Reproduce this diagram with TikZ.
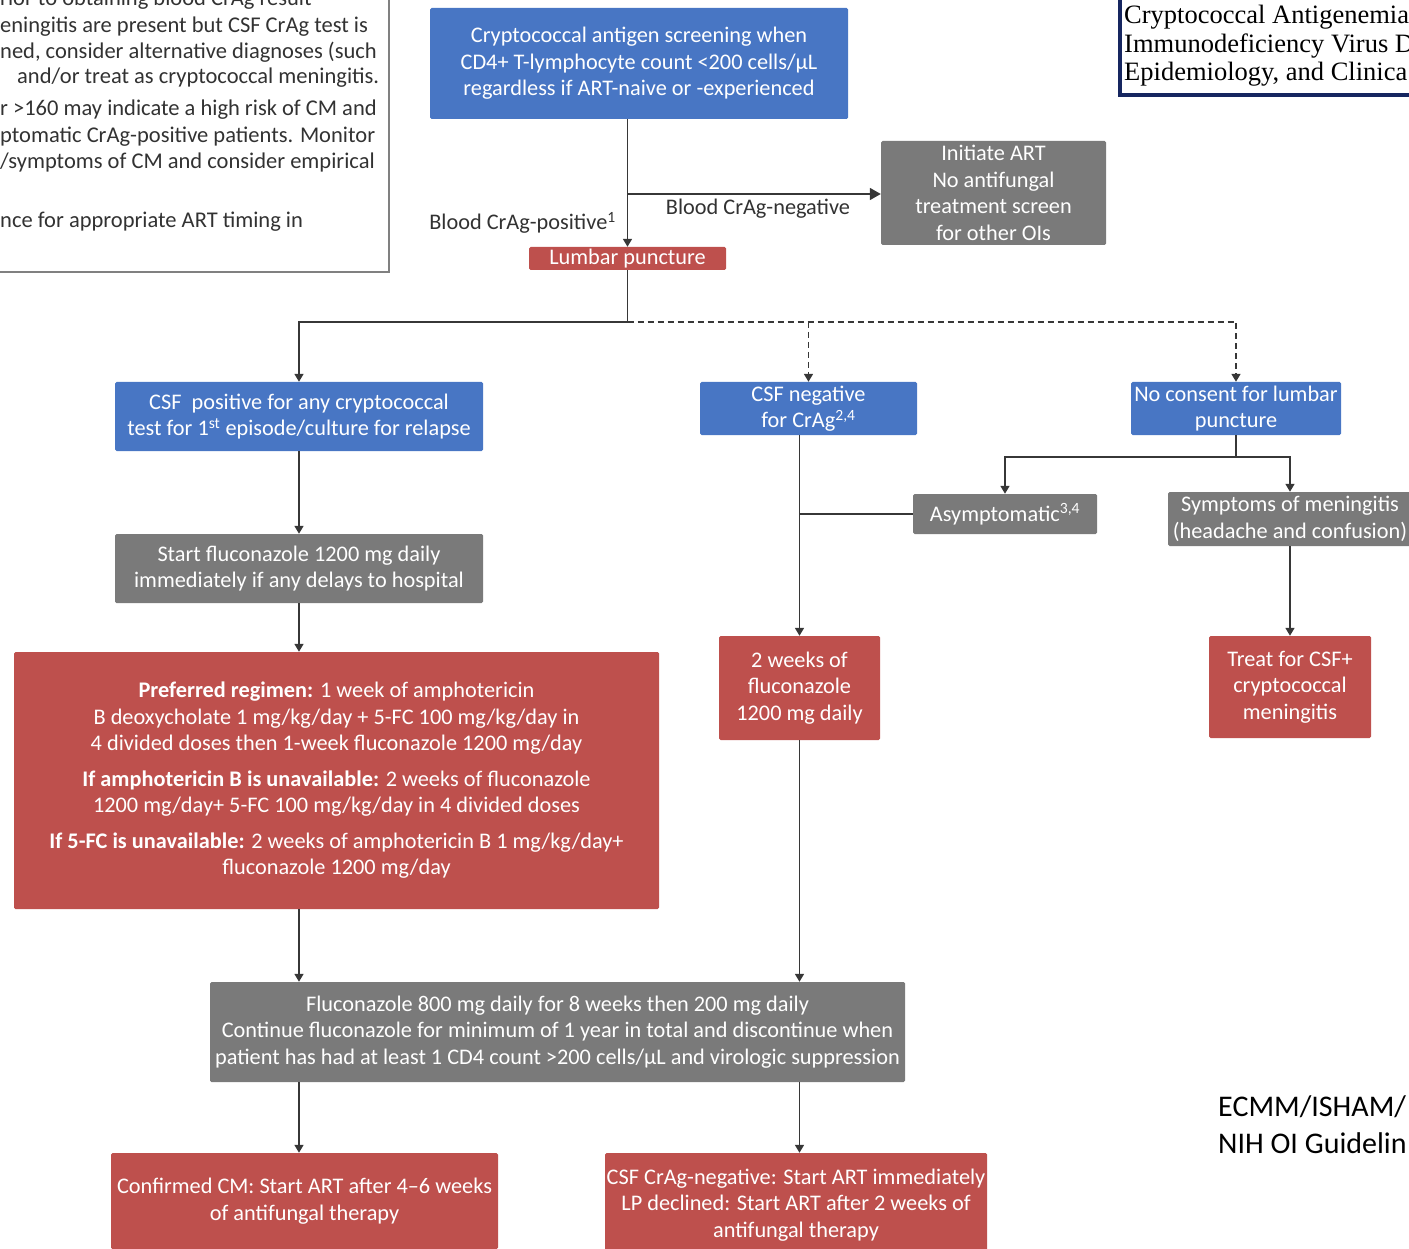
\documentclass[tikz,border=0pt]{standalone}
\usepackage{fontspec}
\setmainfont{Carlito}
\newfontfamily\serifhead{Liberation Serif}
\usetikzlibrary{arrows.meta}
\definecolor{boxblue}{RGB}{72,118,196}
\definecolor{boxgray}{RGB}{122,122,122}
\definecolor{boxred}{RGB}{190,80,77}
\definecolor{linegray}{RGB}{55,55,55}
\definecolor{notegray}{RGB}{50,50,50}
\definecolor{navy}{RGB}{22,38,96}

\begin{document}
\begin{tikzpicture}[x=1pt,y=-1pt]
					\useasboundingbox (0,0) rectangle (1409,1249);
					\clip (0,0) rectangle (1409,1249);
					\tikzstyle{every node}=[inner sep=0pt, align=center, font=\fontsize{22.3}{26.5}\selectfont];
					\tikzstyle{bbox}=[fill=boxblue, text=white, rounded corners=1.5pt];
					\tikzstyle{gbox}=[fill=boxgray, text=white, rounded corners=1.5pt];
					\tikzstyle{rbox}=[fill=boxred, text=white, rounded corners=1.5pt];
					\tikzstyle{ln}=[draw=linegray, line width=1.6pt];
					\tikzstyle{arr}=[ln, -{Triangle[length=8pt,width=9pt]}];
					\tikzstyle{dsh}=[arr, dash pattern=on 6pt off 4pt];
					\tikzstyle{lbl}=[text=notegray];
					\tikzstyle{note}=[anchor=west, text=notegray, font=\fontsize{22.5}{26.5}\selectfont];
					\draw[gray, line width=2pt] (-20,-20) rectangle (389,272);
					\draw[navy, line width=4pt] (1120,-20) rectangle (1430,95);
					\path (0,0) node[note] (n0) {rior to obtaining blood CrAg result};
					\path (0,27) node[note] (n1) {eningitis are present but CSF CrAg test is};
					\path (0,52) node[note] (n2) {ned, consider alternative diagnoses (such};
					\path (17,78) node[note] (n3) {and/or treat as cryptococcal meningitis.};
					\path (0,110) node[note] (n4) {r >160 may indicate a high risk of CM and};
					\path (0,137) node[note] (n5) {ptomatic CrAg-positive patients. Monitor};
					\path (0,163) node[note] (n6) {/symptoms of CM and consider empirical};
					\path (0,222) node[note] (n7) {nce for appropriate ART timing in};
					\path (1124,17) node[anchor=west, font=\serifhead\fontsize{26.5}{28}\selectfont] (t0) {Cryptococcal Antigenemia};
					\path (1124,46) node[anchor=west, font=\serifhead\fontsize{26.5}{28}\selectfont] (t1) {Immunodeficiency Virus D};
					\path (1124,74) node[anchor=west, font=\serifhead\fontsize{26.5}{28}\selectfont] (t2) {Epidemiology, and Clinica};
					\path (1218,1107) node[anchor=west, font=\fontsize{30}{36}\selectfont] (r0) {ECMM/ISHAM/};
					\path (1218,1143) node[anchor=west, font=\fontsize{30}{36}\selectfont] (r1) {NIH OI Guidelin};
					\path (639,63.5) node[bbox, minimum width=418, minimum height=111] (v0) {Cryptococcal antigen screening when\\CD4+ T-lymphocyte count <200 cells/µL\\regardless if ART-naive or -experienced};
					\path (993.5,193) node[gbox, minimum width=225, minimum height=104] (v1) {Initiate ART\\No antifungal\\treatment screen\\for other OIs};
					\path (627.5,258.5) node[rbox, minimum width=197, minimum height=23] (v2) {Lumbar puncture};
					\path (616,223) node[lbl, anchor=east] (v3) {Blood CrAg-positive\textsuperscript{1}};
					\path (758,209) node[lbl] (v4) {Blood CrAg-negative};
					\path (299,416.5) node[bbox, minimum width=368, minimum height=69] (v5) {CSF\ \ positive for any cryptococcal\\test for 1\textsuperscript{st} episode/culture for relapse};
					\path (299,568.5) node[gbox, minimum width=368, minimum height=69] (v6) {Start fluconazole 1200 mg daily\\immediately if any delays to hospital};
					\path (336.5,780.5) node[rbox, minimum width=645, minimum height=257] (v7) {\textbf{Preferred regimen:} 1 week of amphotericin\\B deoxycholate 1 mg/kg/day + 5-FC 100 mg/kg/day in\\4 divided doses then 1-week fluconazole 1200 mg/day\\[9pt]\textbf{If amphotericin B is unavailable:} 2 weeks of fluconazole\\1200 mg/day+ 5-FC 100 mg/kg/day in 4 divided doses\\[9pt]\textbf{If 5-FC is unavailable:} 2 weeks of amphotericin B 1 mg/kg/day+\\fluconazole 1200 mg/day};
					\path (808.5,408.5) node[bbox, minimum width=217, minimum height=53] (v8) {CSF negative\\for CrAg\textsuperscript{2,4}};
					\path (799.5,688) node[rbox, minimum width=161, minimum height=104] (v9) {2 weeks of\\fluconazole\\1200 mg daily};
					\path (1236,408.5) node[bbox, minimum width=210, minimum height=53] (v10) {No consent for lumbar\\puncture};
					\path (1005,514) node[gbox, minimum width=184, minimum height=40] (v11) {Asymptomatic\textsuperscript{3,4}};
					\path (1290,519) node[gbox, minimum width=244, minimum height=54] (v12) {Symptoms of meningitis\\(headache and confusion)};
					\path (1290,687) node[rbox, minimum width=162, minimum height=102] (v13) {Treat for CSF+\\cryptococcal\\meningitis};
					\path (557.5,1032) node[gbox, minimum width=695, minimum height=100] (v14) {Fluconazole 800 mg daily for 8 weeks then 200 mg daily\\Continue fluconazole for minimum of 1 year in total and discontinue when\\patient has had at least 1 CD4 count >200 cells/µL and virologic suppression};
					\path (304.5,1201) node[rbox, minimum width=387, minimum height=96] (v15) {Confirmed CM: Start ART after 4--6 weeks\\of antifungal therapy};
					\path (796,1205) node[rbox, minimum width=382, minimum height=104] (v16) {CSF CrAg-negative: Start ART immediately\\LP declined: Start ART after 2 weeks of\\antifungal therapy};
					\coordinate (c0) at (627.5,194);
					\coordinate (c1) at (627.5,322);
					\coordinate (c2) at (1236,457);
					\draw[arr] (v0.south -| v2.north) -- (v2.north);
					\draw[ln, -{Triangle[length=11pt,width=12pt]}] (c0) -- (c0 -| v1.west);
					\draw[ln] (v2.south) -- (c1);
					\draw[arr] (c1) -| (v5.north);
					\draw[dsh] (c1) -| (v10.north);
					\draw[dsh] (c1 -| v8.north) -- (v8.north);
					\draw[arr] (v5.south) -- (v6.north);
					\draw[arr] (v6.south) -- (v6.south |- v7.north);
					\draw[arr] (v7.south -| v6.south) -- (v6.south |- v14.north);
					\draw[arr] (v8.south -| v9.north) -- (v9.north);
					\draw[ln] (v11.west) -- (v11.west -| v9.north);
					\draw[arr] (v9.south) -- (v9.south |- v14.north);
					\draw[ln] (v10.south) -- (c2);
					\draw[arr] (c2) -| (v11.north);
					\draw[arr] (c2) -| (v12.north);
					\draw[arr] (v12.south) -- (v13.north);
					\draw[arr] (v14.south -| v6.south) -- (v6.south |- v15.north);
					\draw[arr] (v14.south -| v9.south) -- (v9.south |- v16.north);
\end{tikzpicture}
\end{document}
